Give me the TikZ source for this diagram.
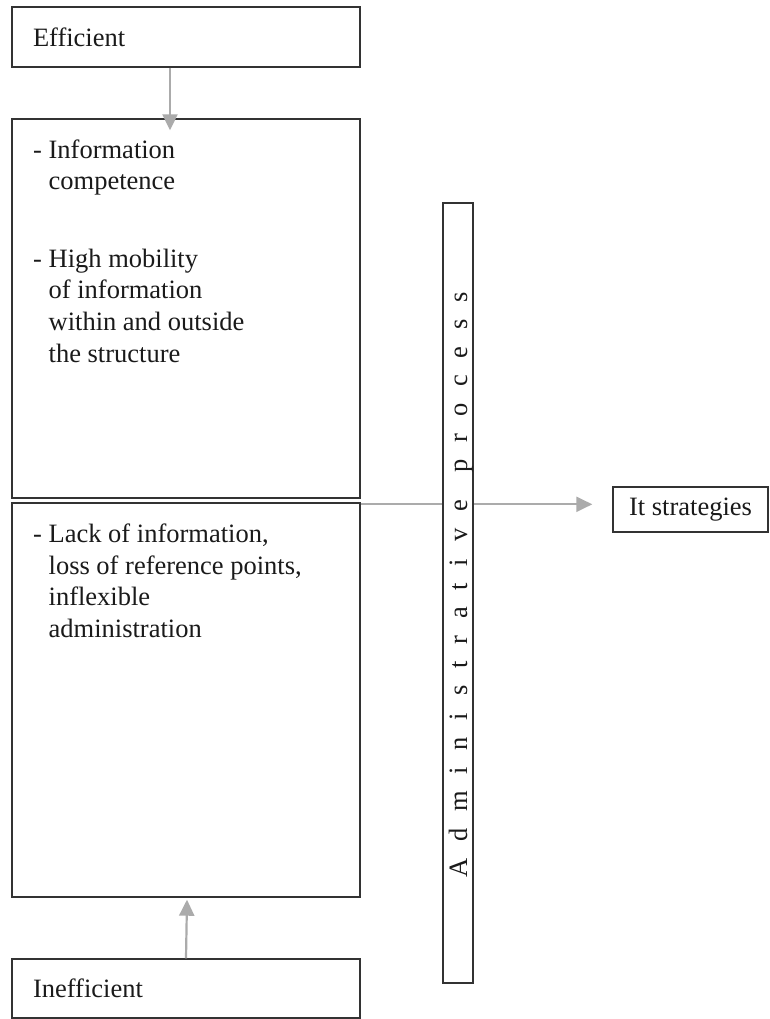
\documentclass[tikz,border=0pt]{standalone}
\usepackage{fontspec}
\setmainfont{Liberation Serif}
\usetikzlibrary{arrows.meta}
\definecolor{frame}{HTML}{333333}
\definecolor{linkgray}{HTML}{ABABAB}
\definecolor{ink}{HTML}{1A1A1A}
\begin{document}
\begin{tikzpicture}[x=1pt,y=1pt,
  font=\fontsize{26.5}{31.7}\selectfont,
  box/.style={draw=frame, line width=1.4pt, fill=white, inner sep=0pt, text=ink},
  sidebox/.style={box, minimum width=348pt, text width=306pt, inner xsep=21pt, align=left},
  textblock/.style={text=ink, inner sep=0pt, anchor=north west, align=left},
  link/.style={draw=linkgray, line width=2.2pt, -{Triangle[length=16pt,width=15pt]}},
]
\useasboundingbox (0,0) rectangle (769,-1019);

% left column
\node[sidebox, minimum height=60pt] (eff) at (186,-37) {Efficient};
\node[box, minimum width=348pt, minimum height=379pt] (up) at (186,-308.5) {};
\node[box, minimum width=348pt, minimum height=394pt] (low) at (186,-700) {};
\node[sidebox, minimum height=59pt] (ineff) at (186,-988.5) {Inefficient};

\node[textblock] (itemA) at (33,-139.2) {- Information\\\phantom{- }competence};
\node[textblock] (itemB) at (33,-248.6) {- High mobility\\\phantom{- }of information\\\phantom{- }within and outside\\\phantom{- }the structure};
\node[textblock] (itemC) at (33,-523.6) {- Lack of information,\\\phantom{- }loss of reference points,\\\phantom{- }inflexible\\\phantom{- }administration};

% outcome box
\node[box, minimum width=155pt, minimum height=45pt] (strat) at (690.5,-509.5) {It strategies};

% connectors
\draw[link] ([xshift=-16pt]eff.south) -- ([xshift=-16pt,yshift=-12pt]up.north);
\draw[link] (ineff.north) -- ([xshift=1pt,yshift=-2pt]low.south);
\draw[link, shorten >=20pt] ([yshift=-2pt]low.north east) -- ([yshift=-2pt]low.north east -| strat.west);

% vertical process bar, covering the horizontal connector
\node[box, minimum width=30pt, minimum height=780pt] (proc) at (458,-593) {};
\node[inner sep=0pt, rotate=90, anchor=base west, text=ink,
      font=\fontsize{26.5}{31.7}\selectfont\addfontfeatures{LetterSpace=63.5}]
      (proctext) at (467,-878) {Administrative\hspace{4pt} process};
\end{tikzpicture}
\end{document}
